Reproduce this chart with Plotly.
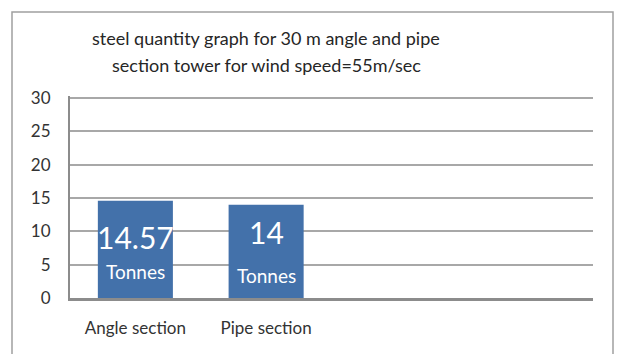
import plotly.graph_objects as go

# Chart data
sections = ["Angle section", "Pipe section"]
steel_tonnes = [14.57, 14]
unit_label = "Tonnes"
y_ticks = [0, 5, 10, 15, 20, 25, 30]

BAR_COLOR = "#4371AA"
GRID_COLOR = "#A8A8A8"
AXIS_COLOR = "#8C8C8C"
TEXT_COLOR = "#333333"
FONT = "Lato"

Y_TOP = 30.3          # a little headroom so the 30 gridline is drawn
PLOT_H = 202          # plot area height in px
BASE_PX = 298         # pixel row of the x axis

# label heights inside each bar (axis units)
number_y = [9.2, 9.9]
unit_y = [4.0, 3.4]

fig = go.Figure(
    go.Bar(
        x=sections,
        y=steel_tonnes,
        marker=dict(color=BAR_COLOR, line=dict(width=0)),
        hoverinfo="x+y",
    )
)

annotations = []
for name, val, ny, uy in zip(sections, steel_tonnes, number_y, unit_y):
    annotations.append(dict(
        x=name, y=ny, xref="x", yref="y", text=f"{val:g}",
        showarrow=False, font=dict(family=FONT, size=30, color="white"),
        xanchor="center", yanchor="middle",
    ))
    annotations.append(dict(
        x=name, y=uy, xref="x", yref="y", text=unit_label,
        showarrow=False, font=dict(family=FONT, size=19, color="white"),
        xanchor="center", yanchor="middle",
    ))

# two-line chart title
title_lines = [
    "steel quantity graph for 30 m angle and pipe",
    "section tower for wind speed=55m/sec",
]
for line, ypx in zip(title_lines, [38, 65]):
    annotations.append(dict(
        x=(266 - 70) / 523, y=(BASE_PX - ypx) / PLOT_H, xref="paper", yref="paper",
        text=line, showarrow=False,
        font=dict(family=FONT, size=18, color="#262626"),
        xanchor="center", yanchor="middle",
    ))

fig.update_layout(
    width=617,
    height=354,
    margin=dict(l=70, r=24, t=354 - 56 - PLOT_H, b=56),
    paper_bgcolor="white",
    plot_bgcolor="white",
    showlegend=False,
    bargap=0.426,
    font=dict(family=FONT, size=16, color=TEXT_COLOR),
    annotations=annotations,
    shapes=[
        dict(
            type="rect", xref="paper", yref="paper",
            x0=(12 - 70) / 523, x1=(613 - 70) / 523,
            y0=-0.5, y1=(BASE_PX - 12) / PLOT_H,
            line=dict(color="#A0A0A0", width=1.5),
            fillcolor="rgba(0,0,0,0)", layer="below",
        )
    ],
)

fig.update_xaxes(
    type="category",
    categoryorder="array",
    categoryarray=sections,
    range=[-0.5, 3.5],
    showgrid=False,
    showline=True,
    linecolor=AXIS_COLOR,
    linewidth=3,
    ticks="",
    ticklabelstandoff=13,
    tickfont=dict(family=FONT, size=17, color=TEXT_COLOR),
    fixedrange=True,
)

fig.update_yaxes(
    range=[0, Y_TOP],
    tickvals=y_ticks,
    showgrid=True,
    gridcolor=GRID_COLOR,
    gridwidth=1.5,
    zeroline=False,
    showline=True,
    linecolor=AXIS_COLOR,
    linewidth=2,
    ticks="",
    ticklabelstandoff=14,
    tickfont=dict(family=FONT, size=17, color=TEXT_COLOR),
    fixedrange=True,
)

fig.write_html("out.html", config={"displayModeBar": False})
